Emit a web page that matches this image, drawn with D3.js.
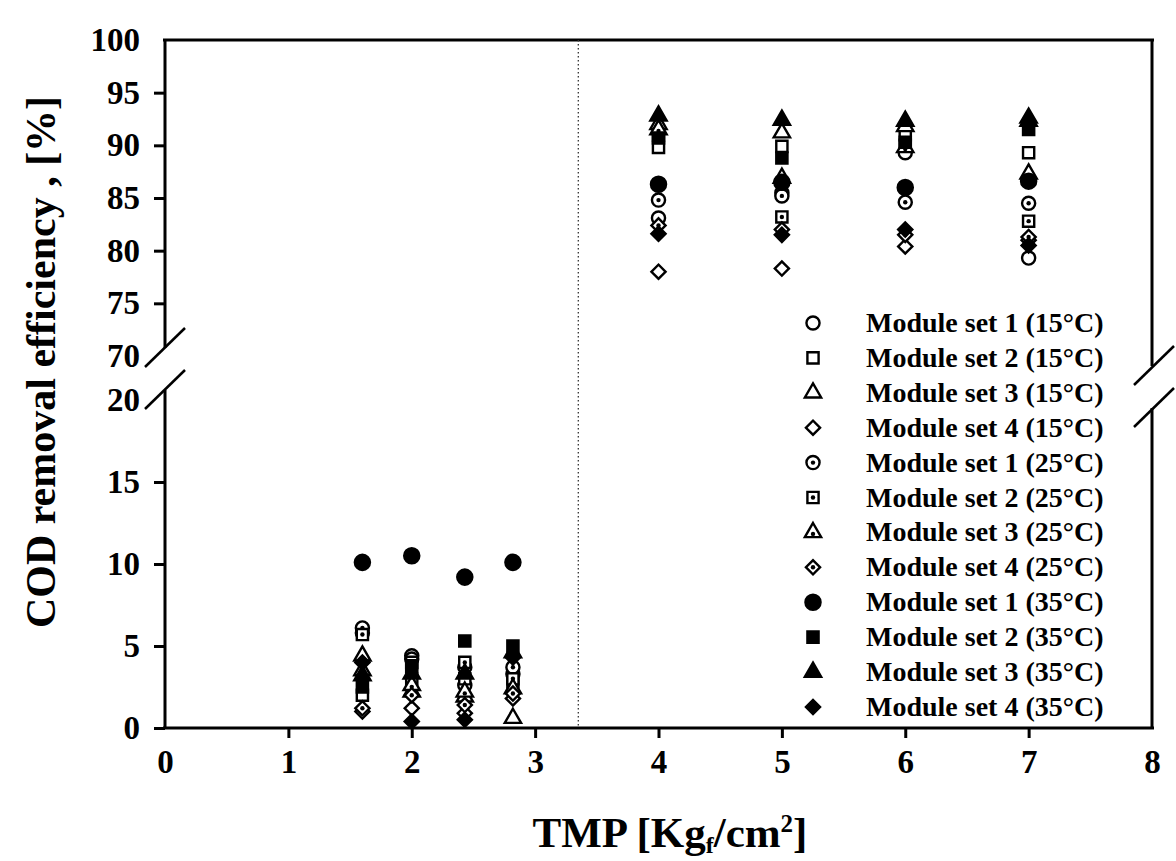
<!DOCTYPE html>
<html>
<head>
<meta charset="utf-8">
<script src="https://cdn.jsdelivr.net/npm/d3@7"></script>
<style>
  body { margin: 0; background: #fff; }
  #chart { width: 1176px; height: 861px; }
  text { font-family: "Liberation Serif", "Times New Roman", serif; font-weight: bold; fill: #000; }
</style>
</head>
<body>
<div id="chart"></div>
<script>
// data
const tmp = [1.6, 2.0, 2.43, 2.82, 4, 5, 6, 7];

const s1_15 = [5.8, 4.4, 2.6, 3.3, 83.1, 85.5, 89.3, 79.3];
const s2_15 = [2.0, 3.0, 3.0, 2.8, 89.8, 89.9, 91.0, 89.3];
const s3_15 = [4.4, 2.2, 1.9, 0.6, 92.0, 91.2, 91.8, 92.3];
const s4_15 = [1.0, 1.2, 0.9, 1.8, 78.0, 78.3, 80.4, 81.0];
const s1_25 = [6.1, 4.2, 3.7, 3.7, 84.8, 85.2, 84.6, 84.5];
const s2_25 = [5.7, 4.0, 4.0, 3.0, 91.0, 83.2, 90.0, 82.8];
const s3_25 = [3.5, 2.6, 2.2, 2.4, 91.5, 86.9, 89.8, 87.3];
const s4_25 = [1.2, 2.0, 1.4, 2.1, 82.4, 82.0, 81.5, 81.3];
const s1_35 = [10.1, 10.5, 9.2, 10.1, 86.3, 86.5, 86.0, 86.6];
const s2_35 = [2.5, 3.8, 5.3, 5.0, 90.7, 88.8, 90.3, 91.5];
const s3_35 = [3.2, 3.3, 3.3, 4.6, 92.8, 92.4, 92.3, 92.6];
const s4_35 = [4.0, 0.4, 0.5, 4.3, 81.6, 81.5, 82.0, 80.5];

const seriesNames = [
  "Module set 1 (15°C)", "Module set 2 (15°C)", "Module set 3 (15°C)", "Module set 4 (15°C)",
  "Module set 1 (25°C)", "Module set 2 (25°C)", "Module set 3 (25°C)", "Module set 4 (25°C)",
  "Module set 1 (35°C)", "Module set 2 (35°C)", "Module set 3 (35°C)", "Module set 4 (35°C)"
];
const seriesValues = [s1_15, s2_15, s3_15, s4_15, s1_25, s2_25, s3_25, s4_25, s1_35, s2_35, s3_35, s4_35];

const xTicks = [0, 1, 2, 3, 4, 5, 6, 7, 8];
const yTicksUpper = [70, 75, 80, 85, 90, 95, 100];
const yTicksLower = [0, 5, 10, 15, 20];
const dividerTmp = 3.35;

// 1. svg
const width = 1176, height = 861;
const svg = d3.select("#chart").append("svg")
    .attr("width", width)
    .attr("height", height);

// 2. scales (broken y axis: two linear pieces)
const xScale = d3.scaleLinear().domain([0, 8]).range([165, 1152]);
const yUpper = d3.scaleLinear().domain([70, 100]).range([356, 40]);
const yLower = d3.scaleLinear().domain([0, 20]).range([728, 400]);
const yScale = v => v <= 20 ? yLower(v) : yUpper(v);

const x0 = xScale(0), x1 = xScale(8);
const yTop = yUpper(100), yBot = yLower(0);

// 3. frame lines
const frame = svg.append("g").attr("stroke", "#000").attr("stroke-width", 3).attr("fill", "none");
frame.append("line").attr("x1", x0 - 2).attr("x2", x1 + 2).attr("y1", yTop).attr("y2", yTop);
frame.append("line").attr("x1", x0 - 2).attr("x2", x1 + 2).attr("y1", yBot).attr("y2", yBot);
// left axis pieces
frame.append("line").attr("x1", x0).attr("x2", x0).attr("y1", yTop).attr("y2", yUpper(70) - 8);
frame.append("line").attr("x1", x0).attr("x2", x0).attr("y1", yLower(20) - 10).attr("y2", yBot);
// right axis pieces
frame.append("line").attr("x1", x1).attr("x2", x1).attr("y1", yTop).attr("y2", yUpper(70) + 10);
frame.append("line").attr("x1", x1).attr("x2", x1).attr("y1", yLower(20) + 8).attr("y2", yBot);

// break slashes
function slash(cx, cy) {
  frame.append("line")
    .attr("x1", cx - 19).attr("y1", cy + 19)
    .attr("x2", cx + 21).attr("y2", cy - 20)
    .attr("stroke-width", 2.5);
}
slash(x0 - 1, yUpper(70) - 8);
slash(x0 - 1, yLower(20) - 10);
slash(x1 + 1, yUpper(70) + 10);
slash(x1 + 1, yLower(20) + 8);

// dotted divider
svg.append("line")
    .attr("x1", xScale(dividerTmp)).attr("x2", xScale(dividerTmp))
    .attr("y1", yTop).attr("y2", yBot)
    .attr("stroke", "#333").attr("stroke-width", 1.3)
    .attr("stroke-dasharray", "1.5,2.5");

// 4. axes
const xAxis = svg.append("g")
    .attr("transform", `translate(0,${yBot})`)
    .call(d3.axisBottom(xScale).tickValues(xTicks).tickSize(10).tickPadding(12).tickFormat(d3.format("d")));
xAxis.select(".domain").remove();
xAxis.selectAll(".tick line").attr("stroke-width", 3)
    .attr("display", d => (d === 0 || d === 8) ? "none" : null);
xAxis.selectAll("text").style("font-size", "33px").attr("fill", "#000");

function leftAxis(scale, ticks, hidden) {
  const g = svg.append("g")
      .attr("transform", `translate(${x0},0)`)
      .call(d3.axisLeft(scale).tickValues(ticks).tickSize(11).tickPadding(14));
  g.select(".domain").remove();
  g.selectAll(".tick line").attr("stroke-width", 3)
      .attr("display", d => hidden.includes(d) ? "none" : null);
  g.selectAll("text").style("font-size", "33px").attr("fill", "#000");
  return g;
}
leftAxis(yUpper, yTicksUpper, [70, 100]);
leftAxis(yLower, yTicksLower, [20]);

// axis titles
svg.append("text")
    .attr("transform", "rotate(-90)")
    .attr("x", -362)
    .attr("y", 55)
    .attr("text-anchor", "middle")
    .style("font-size", "42px")
    .text("COD removal efficiency , [%]");

const xt = svg.append("text")
    .attr("x", 670)
    .attr("y", 847)
    .attr("text-anchor", "middle")
    .style("font-size", "43px");
xt.append("tspan").text("TMP [Kg");
xt.append("tspan").attr("dy", 6).style("font-size", "24px").text("f");
xt.append("tspan").attr("dy", -6).text("/cm");
xt.append("tspan").attr("dy", -15).style("font-size", "25px").text("2");
xt.append("tspan").attr("dy", 15).text("]");

// 5. markers
const shapes = [d3.symbolCircle, d3.symbolSquare, d3.symbolTriangle, d3.symbolSquare];
const sizes = [135, 125, 115, 100];
function drawMarker(g, i) {
  const shape = i % 4, group = Math.floor(i / 4);
  const sz = group === 2 && shape === 0 ? 180 : sizes[shape];
  g.append("path")
      .attr("d", d3.symbol().type(shapes[shape]).size(sz)())
      .attr("transform", shape === 3 ? "rotate(45)" : null)
      .attr("fill", group === 2 ? "#000" : "#fff")
      .attr("stroke", "#000")
      .attr("stroke-width", 2.4);
  if (group === 1) {
    g.append("circle").attr("r", 2.2).attr("cy", shape === 2 ? 1.5 : 0).attr("fill", "#000");
  }
}

seriesValues.forEach(function(vals, i) {
  const pts = svg.append("g").selectAll("g")
      .data(vals.map((v, j) => ({ x: tmp[j], y: v })))
      .enter().append("g")
      .attr("transform", d => `translate(${xScale(d.x)},${yScale(d.y)})`);
  pts.each(function() { drawMarker(d3.select(this), i); });
});

// 6. legend
const legend = svg.append("g");
seriesNames.forEach(function(name, i) {
  const cy = 323 + i * 34.9;
  const g = legend.append("g").attr("transform", `translate(813,${cy})`);
  drawMarker(g, i);
  legend.append("text")
      .attr("x", 866)
      .attr("y", cy + 9)
      .style("font-size", "28px")
      .text(name);
});
</script>
</body>
</html>
